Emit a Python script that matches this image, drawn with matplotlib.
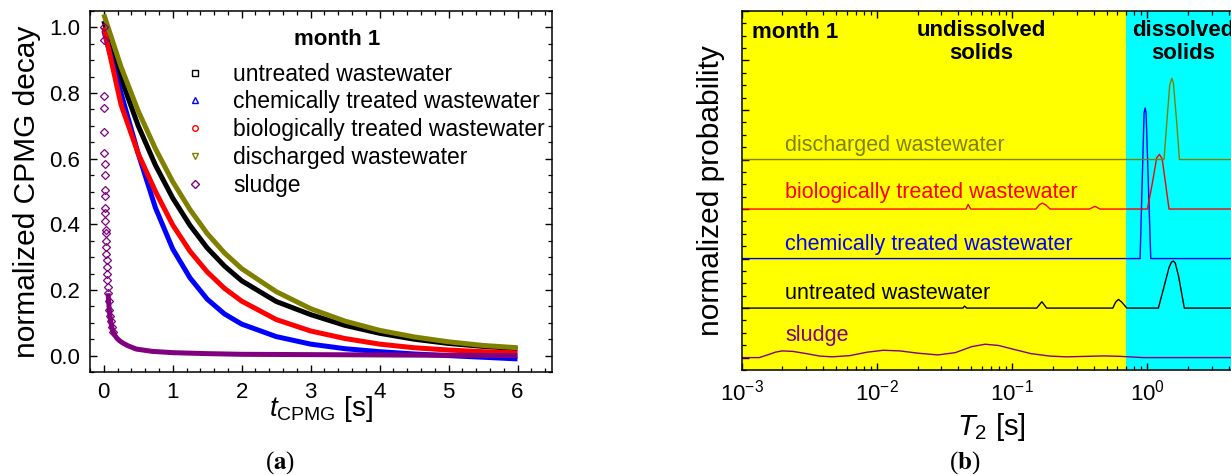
import matplotlib
matplotlib.use("Agg")
import matplotlib.pyplot as plt
from matplotlib.lines import Line2D
from matplotlib.ticker import MultipleLocator, LogLocator, NullFormatter, FormatStrFormatter
import numpy as np

plt.rcParams['font.family'] = ['Liberation Sans', 'DejaVu Sans']
plt.rcParams['mathtext.fontset'] = 'custom'
plt.rcParams['mathtext.rm'] = 'Liberation Sans'
plt.rcParams['mathtext.it'] = 'Liberation Sans:italic'
plt.rcParams['mathtext.bf'] = 'Liberation Sans:bold'
plt.rcParams['axes.linewidth'] = 1.1

OLIVE = '#808000'
PURPLE = '#800080'

# (a) CPMG decays, month 1
t = [0, 0.25, 0.5, 0.75, 1.0, 1.25, 1.5, 1.75, 2.0, 2.5, 3.0, 3.5, 4.0, 4.5, 5.0, 5.5, 6.0]
untreated = [1.02, 0.845, 0.70, 0.58, 0.48, 0.397, 0.328, 0.273, 0.228, 0.165, 0.125, 0.092, 0.068, 0.05, 0.037, 0.028, 0.021]
chemical = [0.99, 0.80, 0.615, 0.45, 0.325, 0.237, 0.172, 0.127, 0.096, 0.058, 0.035, 0.021, 0.012, 0.005, 0.0, -0.005, -0.010]
biological = [1.0, 0.765, 0.615, 0.50, 0.398, 0.318, 0.255, 0.205, 0.166, 0.110, 0.075, 0.052, 0.035, 0.024, 0.017, 0.012, 0.008]
discharged = [1.04, 0.88, 0.745, 0.63, 0.53, 0.445, 0.372, 0.313, 0.265, 0.195, 0.143, 0.105, 0.077, 0.057, 0.042, 0.031, 0.024]
sludge_t = [0.000, 0.002, 0.004, 0.006, 0.008, 0.010, 0.012, 0.014, 0.016, 0.018,
            0.020, 0.022, 0.024, 0.026, 0.028, 0.031, 0.034, 0.037, 0.040, 0.044,
            0.048, 0.053, 0.058, 0.063, 0.070, 0.080, 0.090, 0.100, 0.115, 0.135,
            0.160, 0.190, 0.230, 0.280, 0.350, 0.470, 0.700, 1.0, 1.5, 2.0,
            3.0, 4.0, 5.0, 6.0]
sludge = [1.00, 0.962, 0.79, 0.753, 0.682, 0.616, 0.584, 0.549, 0.505, 0.485,
          0.45, 0.434, 0.41, 0.384, 0.374, 0.35, 0.33, 0.31, 0.29, 0.27,
          0.25, 0.23, 0.21, 0.19, 0.165, 0.14, 0.12, 0.105, 0.088, 0.072,
          0.062, 0.053, 0.045, 0.038, 0.030, 0.020, 0.013, 0.009, 0.006, 0.004,
          0.003, 0.002, 0.001, 0.0]

# (b) T2 distributions, each curve stacked on its own baseline
T2_untreated = [0.001, 0.0433, 0.0445, 0.0462, 0.152, 0.166, 0.180, 0.555, 0.582, 0.611, 0.646, 0.705,
                1.205, 1.318, 1.445, 1.507, 1.556, 1.607, 1.698, 1.778, 1.875, 5.0]
P_untreated = [0, 0, 0.04, 0, 0, 0.128, 0, 0, 0.12, 0.175, 0.12, 0,
               0, 0.40, 0.82, 0.93, 0.95, 0.91, 0.65, 0.35, 0, 0]
T2_chemical = [0.001, 0.883, 0.945, 0.962, 0.978, 1.059, 5.0]
P_chemical = [0, 0, 2.94, 3.04, 2.94, 0, 0]
T2_biological = [0.001, 0.0457, 0.0473, 0.0495, 0.150, 0.158, 0.1675, 0.178, 0.191, 0.372, 0.410, 0.447,
                 1.0, 1.084, 1.172, 1.227, 1.285, 1.365, 1.445, 5.0]
P_biological = [0, 0, 0.094, 0, 0, 0.08, 0.12, 0.08, 0, 0, 0.054, 0,
                0, 0.5, 1.037, 1.104, 1.017, 0.5, 0, 0]
T2_discharged = [0.001, 1.327, 1.396, 1.462, 1.514, 1.556, 1.641, 1.726, 5.0]
P_discharged = [0, 0, 0.8, 1.5, 1.64, 1.55, 0.8, 0, 0]
T2_sludge = [0.001, 0.00135, 0.00158, 0.00178, 0.00200, 0.00240, 0.00302, 0.00380, 0.00468, 0.00631,
             0.00851, 0.0112, 0.0148, 0.0200, 0.0282, 0.0380, 0.0501, 0.0631, 0.0794, 0.105,
             0.138, 0.191, 0.251, 0.355, 0.479, 0.631, 0.794, 0.933, 5.0]
P_sludge = [0, 0, 0.06, 0.11, 0.135, 0.125, 0.08, 0.03, 0.015, 0.04,
            0.11, 0.148, 0.135, 0.09, 0.054, 0.10, 0.22, 0.27, 0.245, 0.16,
            0.08, 0.03, 0.015, 0.025, 0.034, 0.025, 0.01, 0.0, 0.0]

names = ['untreated wastewater', 'chemically treated wastewater',
         'biologically treated wastewater', 'discharged wastewater', 'sludge']
colors = ['black', 'blue', 'red', OLIVE, PURPLE]
markers = ['s', '^', 'o', 'v', 'D']

fig = plt.figure(figsize=(12.31, 4.75), dpi=100)

# ---------- left panel ----------
ax1 = fig.add_axes([0.0731, 0.2168, 0.3753, 0.76])
for y, c in zip([untreated, chemical, biological, discharged], colors[:4]):
    ax1.plot(t, y, color=c, lw=3.6, solid_capstyle='butt', solid_joinstyle='round')
ax1.plot(sludge_t[23:], sludge[23:], color=PURPLE, lw=3.6, solid_capstyle='butt')
ax1.plot(sludge_t[:30], sludge[:30], ls='none', marker='D', ms=3.6, mfc='none',
         mec=PURPLE, mew=0.9)

ax1.set_xlim(-0.2, 6.5)
ax1.set_ylim(-0.05, 1.05)
ax1.xaxis.set_major_locator(MultipleLocator(1))
ax1.xaxis.set_minor_locator(MultipleLocator(0.2))
ax1.yaxis.set_major_locator(MultipleLocator(0.2))
ax1.yaxis.set_minor_locator(MultipleLocator(0.05))
ax1.yaxis.set_major_formatter(FormatStrFormatter('%.1f'))
ax1.tick_params(which='both', direction='in', top=True, right=True, labelsize=16, pad=7)
ax1.tick_params(which='major', length=5, width=1)
ax1.tick_params(which='minor', length=2.8, width=0.9)
ax1.set_ylabel('normalized CPMG decay', fontsize=21.5, labelpad=6)
ax1.set_xlabel(r'$t_{\mathrm{CPMG}}$ [s]', fontsize=20)
ax1.xaxis.set_label_coords(0.5, -0.062)

handles = [Line2D([], [], ls='none', marker=m, ms=4, mfc='none', mec=c, mew=1)
           for m, c in zip(markers, colors)]
ax1.legend(handles, names, loc='upper left', bbox_to_anchor=(0.2024, 0.857),
           frameon=False, fontsize=16.5, handlelength=1.0, handletextpad=1.16,
           labelspacing=0.21, borderpad=0, borderaxespad=0)
ax1.text(0.536, 0.92, 'month 1', transform=ax1.transAxes, fontsize=16,
         fontweight='bold', ha='center', va='center')

# ---------- right panel ----------
ax2 = fig.add_axes([0.6024, 0.2211, 0.4065, 0.7558])
ax2.set_xscale('log')
ax2.set_xlim(1e-3, 5)
ax2.set_ylim(-0.25, 7)
ax2.axvspan(1e-3, 0.7, color='#ffff00', lw=0, zorder=0)
ax2.axvspan(0.7, 5, color='#00ffff', lw=0, zorder=0)

curves = [(T2_sludge, P_sludge, PURPLE, 'sludge', 0, 0.33),
          (T2_untreated, P_untreated, 'black', 'untreated wastewater', 1, 0.18),
          (T2_chemical, P_chemical, 'blue', 'chemically treated wastewater', 2, 0.18),
          (T2_biological, P_biological, 'red', 'biologically treated wastewater', 3, 0.22),
          (T2_discharged, P_discharged, OLIVE, 'discharged wastewater', 4, 0.18)]
for x, p, c, label, base, dy in curves:
    ax2.plot(x, np.array(p) + base, color=c, lw=1.0)
    ax2.text(0.0021, base + dy, label, color=c, fontsize=15.5, va='baseline')

ax2.text(0.0012, 0.939, 'month 1', transform=ax2.get_xaxis_transform(),
         fontsize=16, fontweight='bold', va='center')
ax2.text(0.0595, 0.975, 'undissolved\nsolids', transform=ax2.get_xaxis_transform(),
         fontsize=16, fontweight='bold', ha='center', va='top', linespacing=1.15)
ax2.text(1.835, 0.975, 'dissolved\nsolids', transform=ax2.get_xaxis_transform(),
         fontsize=16, fontweight='bold', ha='center', va='top', linespacing=1.15)

ax2.xaxis.set_major_locator(LogLocator(base=10, numticks=10))
ax2.xaxis.set_minor_locator(LogLocator(base=10, subs=np.arange(2, 10), numticks=10))
ax2.xaxis.set_minor_formatter(NullFormatter())
ax2.yaxis.set_major_locator(MultipleLocator(1))
ax2.yaxis.set_minor_locator(MultipleLocator(0.25))
ax2.tick_params(which='both', direction='in', top=True, right=True, labelleft=False,
                labelsize=16, pad=7)
ax2.tick_params(which='major', length=5, width=1)
ax2.tick_params(which='minor', length=2.8, width=0.9)
ax2.set_ylabel('normalized probability', fontsize=21.5, labelpad=12)
ax2.set_xlabel(r'$T_{2}$ [s]', fontsize=21)

fig.text(280 / 1231, 12 / 475, r'($\mathbf{a}$)', fontsize=18, ha='center', va='center',
         family='Liberation Serif', math_fontfamily='stix')
fig.text(964.6 / 1231, 12 / 475, r'($\mathbf{b}$)', fontsize=18, ha='center', va='center',
         family='Liberation Serif', math_fontfamily='stix')

fig.savefig('out.png', dpi=100)
